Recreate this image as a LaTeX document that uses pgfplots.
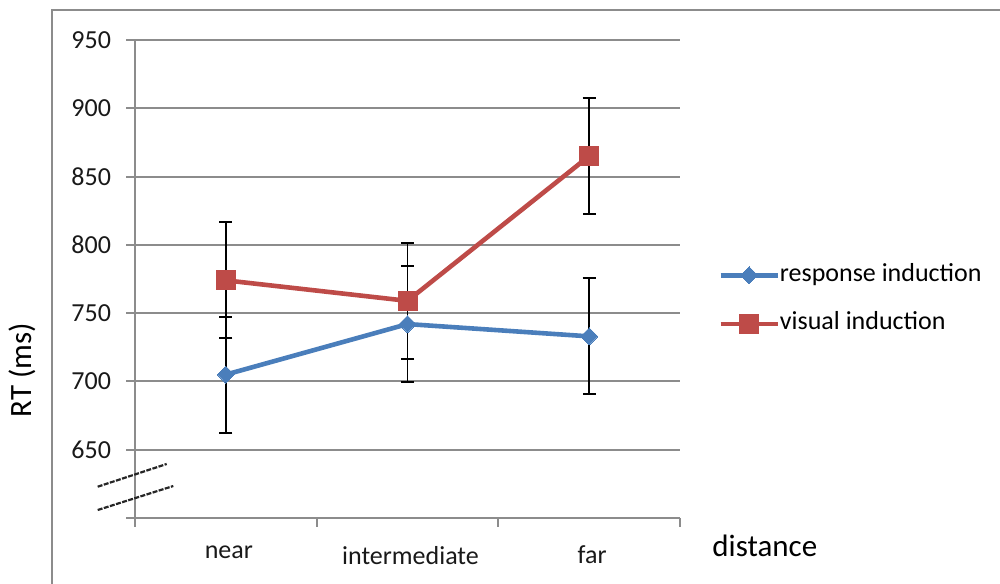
\documentclass[border=0pt]{standalone}
\usepackage{fontspec}
\setmainfont{Carlito}
\usepackage{pgfplots}
\pgfplotsset{compat=1.18}
\definecolor{exblue}{HTML}{4A7EBB}
\definecolor{exred}{HTML}{BE4B48}
\definecolor{gridgray}{HTML}{8C8C8C}
\begin{document}
\begin{tikzpicture}
\begin{axis}[
  at={(67.5pt,32.5pt)}, anchor=south west,
  scale only axis, width=272.5pt, height=239pt,
  xmin=0, xmax=3, ymin=600, ymax=950,
  axis lines*=left,
  axis line style={gridgray, line width=1pt},
  tick align=outside,
  major tick length=4.5pt,
  tick style={gridgray, line width=1pt},
  xtick={0,1,2,3},
  x tick label as interval,
  xticklabels={near,intermediate,far},
  ytick={600,650,...,950},
  yticklabels={,650,700,750,800,850,900,950},
  ymajorgrids,
  grid style={gridgray, line width=1pt},
  tick label style={font=\fontsize{13}{15}\selectfont, black!90},
  /pgf/number format/assume math mode=true,
  yticklabel style={xshift=-4pt},
  xticklabel style={yshift=-6pt, xshift=1.5pt},
  clip=false,
  legend style={draw=none, fill=none, at={(axis cs:3.209,786.8)}, anchor=north west,
    inner sep=0pt, row sep=12.3pt,
    nodes={inner sep=0pt, font=\fontsize{13}{15}\selectfont, text height=9pt, text depth=3pt},
    /tikz/every even column/.append style={column sep=1.5pt}},
  legend cell align=left,
  legend image code/.code={\draw[mark repeat=2,mark phase=2] plot coordinates {(0pt,0pt) (14.25pt,0pt) (28.5pt,0pt)};},
]
\addplot[exblue, line width=2.3pt, mark=square*, mark size=3pt, mark options={rotate=45, solid, fill=exblue, draw=exblue, line width=0pt},
  error bars/.cd, y dir=both, y explicit,
  error bar style={black, line width=0.95pt},
  error mark options={rotate=90, black, mark size=3.25pt, line width=0.95pt}]
  coordinates {(0.5,705) +- (0,42.5) (1.5,742) +- (0,42.5) (2.5,733) +- (0,42.5)};
\addlegendentry{response induction}
\addplot[exred, line width=2.3pt, mark=square*, mark size=4.75pt, mark options={solid, fill=exred, draw=exred, line width=0pt},
  error bars/.cd, y dir=both, y explicit,
  error bar style={black, line width=0.95pt},
  error mark options={rotate=90, black, mark size=3.25pt, line width=0.95pt}]
  coordinates {(0.5,774) +- (0,42.5) (1.5,759) +- (0,42.5) (2.5,865) +- (0,42.5)};
\addlegendentry{visual induction}
\end{axis}
\draw[black!85, line width=1.1pt, dash pattern=on 2.5pt off 0.7pt] (48.85pt,48.15pt) -- (83.35pt,59.5pt);
\draw[black!85, line width=1.1pt, dash pattern=on 2.5pt off 0.7pt] (48.85pt,36.5pt) -- (86.65pt,48.5pt);
\draw[gridgray, line width=1pt] (26pt,-2pt) -- (26pt,286.5pt) -- (502pt,286.5pt);
\node[rotate=90, font=\fontsize{15.5}{18}\selectfont] at (11pt,106.5pt) {RT (ms)};
\node[anchor=base west, inner sep=0pt, font=\fontsize{15.5}{18}\selectfont] at (356pt,13pt) {distance};
\pgfresetboundingbox
\path (0,0) rectangle (500pt,291.5pt);
\end{tikzpicture}
\end{document}
